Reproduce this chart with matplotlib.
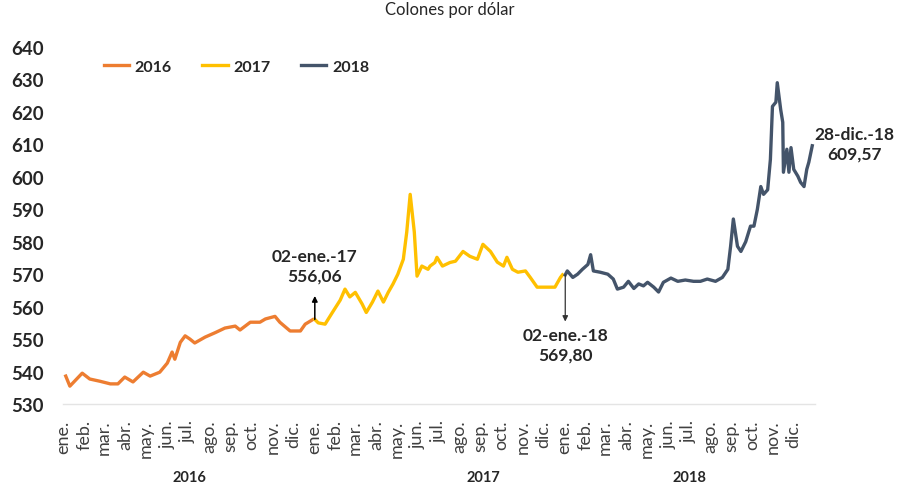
import pandas as pd
import matplotlib.pyplot as plt
import matplotlib.ticker as mticker

# Tipo de cambio de referencia (colones por dólar), lecturas aproximadas
dates_2016 = ['2016-01-05', '2016-01-11', '2016-01-29', '2016-02-09', '2016-02-24',
              '2016-03-10', '2016-03-21', '2016-03-31', '2016-04-12', '2016-04-27',
              '2016-05-07', '2016-05-21', '2016-06-01', '2016-06-08', '2016-06-12',
              '2016-06-20', '2016-06-27', '2016-07-04', '2016-07-11', '2016-07-26',
              '2016-08-10', '2016-08-24', '2016-09-08', '2016-09-15', '2016-09-30',
              '2016-10-14', '2016-10-22', '2016-11-05', '2016-11-12', '2016-11-27',
              '2016-12-12', '2016-12-19', '2016-12-30']
values_2016 = [538.6, 535.5, 539.5, 537.7, 537.0, 536.2, 536.2, 538.3, 536.8, 539.8,
               538.6, 539.8, 542.6, 546.0, 543.8, 549.0, 551.0, 550.0, 548.8, 550.6,
               552.0, 553.4, 554.0, 552.8, 555.2, 555.2, 556.2, 557.0, 555.2, 552.5,
               552.5, 554.6, 556.0]

dates_2017 = ['2017-01-02', '2017-01-07', '2017-01-17', '2017-01-27', '2017-02-08',
              '2017-02-15', '2017-02-22', '2017-03-02', '2017-03-12', '2017-03-18',
              '2017-03-27', '2017-04-04', '2017-04-12', '2017-04-19', '2017-04-26',
              '2017-05-03', '2017-05-11', '2017-05-16', '2017-05-21', '2017-05-27',
              '2017-05-31', '2017-06-07', '2017-06-16', '2017-06-19', '2017-06-26',
              '2017-06-29', '2017-07-07', '2017-07-18', '2017-07-26', '2017-08-06',
              '2017-08-16', '2017-08-27', '2017-09-04', '2017-09-15', '2017-09-25',
              '2017-10-04', '2017-10-09', '2017-10-17', '2017-10-25', '2017-11-05',
              '2017-11-12', '2017-11-22', '2017-12-04', '2017-12-18', '2017-12-26',
              '2017-12-29']
values_2017 = [556.06, 555.0, 554.6, 558.0, 562.0, 565.4, 563.0, 564.4, 560.8, 558.2,
               561.4, 564.8, 561.4, 564.4, 567.0, 570.0, 574.6, 583.0, 594.6, 583.0,
               569.4, 572.5, 571.5, 572.5, 573.6, 575.2, 572.5, 573.6, 574.0, 577.0,
               575.5, 574.6, 579.2, 577.0, 573.7, 572.5, 575.2, 571.5, 570.6, 571.0,
               569.0, 566.0, 566.0, 566.0, 569.0, 569.8]

dates_2018 = ['2018-01-02', '2018-01-05', '2018-01-13', '2018-01-20', '2018-01-27',
              '2018-02-04', '2018-02-08', '2018-02-12', '2018-02-22', '2018-03-05',
              '2018-03-13', '2018-03-19', '2018-03-28', '2018-04-04', '2018-04-12',
              '2018-04-19', '2018-04-26', '2018-05-02', '2018-05-11', '2018-05-18',
              '2018-05-25', '2018-06-05', '2018-06-15', '2018-06-26', '2018-07-08',
              '2018-07-18', '2018-07-28', '2018-08-09', '2018-08-19', '2018-08-27',
              '2018-08-31', '2018-09-04', '2018-09-10', '2018-09-15', '2018-09-22',
              '2018-09-29', '2018-10-04', '2018-10-09', '2018-10-14', '2018-10-18',
              '2018-10-24', '2018-10-28', '2018-10-31', '2018-11-05', '2018-11-07',
              '2018-11-12', '2018-11-15', '2018-11-16', '2018-11-21', '2018-11-24',
              '2018-11-27', '2018-12-01', '2018-12-07', '2018-12-11', '2018-12-16',
              '2018-12-20', '2018-12-23', '2018-12-28']
values_2018 = [569.80, 571.0, 569.0, 570.0, 571.5, 573.0, 576.0, 571.0, 570.6, 570.0,
               568.5, 565.4, 566.0, 567.8, 565.6, 567.0, 566.4, 567.5, 566.0, 564.5,
               567.5, 568.8, 567.8, 568.2, 567.8, 567.8, 568.5, 567.8, 569.0, 571.5,
               578.6, 587.0, 578.6, 577.0, 580.0, 584.8, 584.8, 590.0, 597.0, 594.6,
               596.0, 605.4, 621.7, 623.0, 629.0, 620.7, 616.8, 601.4, 608.5, 601.4,
               609.0, 602.3, 600.2, 598.3, 597.0, 602.3, 604.5, 609.57]

month_names = ['ene.', 'feb.', 'mar.', 'abr.', 'may.', 'jun.',
               'jul.', 'ago.', 'sep.', 'oct.', 'nov.', 'dic.']
years = ['2016', '2017', '2018']

colors = {'2016': '#ED7D31', '2017': '#FFC000', '2018': '#44546A'}
text_color = '#262626'

plt.rcParams['font.family'] = ['Lato', 'DejaVu Sans']

fig = plt.figure(figsize=(8.97, 4.89), dpi=100)
ax = fig.add_axes([63 / 897, 1 - 405 / 489, 752 / 897, 357 / 489])

series = [(dates_2016, values_2016), (dates_2017, values_2017), (dates_2018, values_2018)]
for year, (d, v) in zip(years, series):
    ax.plot(pd.to_datetime(d), v, color=colors[year], lw=2.4, label=year,
            solid_joinstyle='round')

ax.set_xlim(pd.Timestamp('2016-01-01'), pd.Timestamp('2019-01-01'))
ax.set_ylim(530, 640)
ax.yaxis.set_major_locator(mticker.MultipleLocator(10))

month_starts = pd.date_range('2016-01-01', '2018-12-01', freq='MS')
ax.set_xticks(month_starts)
ax.set_xticklabels([month_names[m.month - 1] for m in month_starts],
                   rotation=90, fontsize=13, color='#404040')
ax.tick_params(axis='x', length=0, pad=11)
ax.tick_params(axis='y', length=0, pad=14, labelsize=13.5)
for lbl in ax.get_yticklabels():
    lbl.set_fontweight('bold')
    lbl.set_color(text_color)

for s in ['top', 'right', 'left']:
    ax.spines[s].set_visible(False)
ax.spines['bottom'].set_color('#e4e4e4')
ax.spines['bottom'].set_linewidth(1)

# year labels under the month labels
year_pos = {'2016': '2016-07-03', '2017': '2017-09-04', '2018': '2018-07-02'}
for y in years:
    ax.text(pd.Timestamp(year_pos[y]), -0.205, y, transform=ax.get_xaxis_transform(),
            ha='center', va='center', fontsize=10.5, fontweight='bold', color=text_color)

ax.legend(loc='center left', bbox_to_anchor=(0.035, 0.944), ncol=3, frameon=False,
          handlelength=1.6, handletextpad=0.35, columnspacing=1.9,
          prop={'weight': 'bold', 'size': 11.5}, labelcolor=text_color)

# annotations
arrow = dict(arrowstyle='-|>', color='black', lw=1.1, mutation_scale=8,
             shrinkA=0, shrinkB=0)
d17 = pd.Timestamp(dates_2017[0])
ax.annotate('', xy=(d17, 563.3), xytext=(d17, values_2017[0]), arrowprops=arrow)
ax.text(d17, 572.6, '02-ene.-17\n556,06', ha='center', va='center', fontsize=12.5,
        fontweight='bold', color=text_color, linespacing=1.25)

d18 = pd.Timestamp(dates_2018[0])
ax.annotate('', xy=(d18, 555.4), xytext=(d18, values_2018[0]),
            arrowprops=dict(arrow, color='#333333', lw=0.9))
ax.text(d18, 548.2, '02-ene.-18\n569,80', ha='center', va='center', fontsize=12.5,
        fontweight='bold', color=text_color, linespacing=1.25)

ax.annotate('28-dic.-18\n609,57', xy=(pd.Timestamp(dates_2018[-1]), values_2018[-1]),
            xytext=(42, 2), textcoords='offset pixels', ha='center', va='center',
            fontsize=12.5, fontweight='bold', color=text_color, linespacing=1.25,
            annotation_clip=False)

fig.text(450 / 897, 1 - 2 / 489, 'Colones por dólar', ha='center', va='top',
         fontsize=12, color=text_color)

fig.savefig('out.png', dpi=100)
